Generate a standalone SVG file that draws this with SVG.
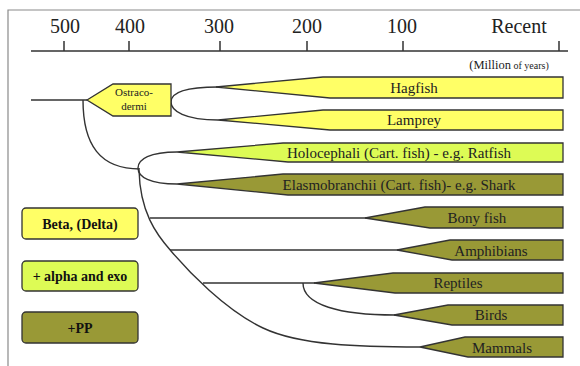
<svg xmlns="http://www.w3.org/2000/svg" width="580" height="366" viewBox="0 0 580 366">
<style>
text{font-family:"Liberation Serif","Times New Roman",serif}
.frame{fill:none;stroke:#8a8a8a;stroke-width:1.2}
.axis{fill:none;stroke:#333;stroke-width:1.5}
.tick{font-size:20px;fill:#222;text-anchor:middle}
.edge{fill:none;stroke:#333;stroke-width:1.4}
.bar{stroke:#333;stroke-width:1.3;stroke-linejoin:miter}
.y{fill:#ffff66}
.g{fill:#ddfb55}
.o{fill:#999936}
.lbl{font-size:15px;fill:#222;text-anchor:middle}
.small{font-size:11px;fill:#222;text-anchor:middle}
.leg{stroke:#333;stroke-width:1.3}
.legt{font-size:14px;font-weight:bold;fill:#111;text-anchor:middle}
</style>
<g id="frame">
<path class="frame" d="M8,366 V10 H580"/>
</g>
<g id="axis">
<path class="axis" d="M31,51 H568 M64,41 V51 M129,41 V51 M220,41 V51 M307,41 V51 M403,41 V51 M559,41 V51"/>
<text class="tick" x="65" y="33">500</text>
<text class="tick" x="130" y="33">400</text>
<text class="tick" x="219" y="33">300</text>
<text class="tick" x="307" y="33">200</text>
<text class="tick" x="402" y="33">100</text>
<text class="tick" x="519" y="33">Recent</text>
<text x="509" y="69" fill="#222" text-anchor="middle"><tspan font-size="12.5px">(Million</tspan><tspan font-size="10px"> of years)</tspan></text>
</g>
<g id="connectors">
<path class="edge" d="M31,100 H87"/>
<path class="edge" d="M83,100 C83,145 100,169 140,169"/>
<path class="edge" d="M218,87 C185,87 171,93 171,102 C171,111 185,120 218,120"/>
<path class="edge" d="M177,152 C150,152 138,159 138,168 C138,177 150,184 177,184"/>
<path class="edge" d="M139,170 C140,212 156,234 171,251 C188,271 225,310 263,328 C300,345.5 360,347 420,347"/>
<path class="edge" d="M150,218 H366"/>
<path class="edge" d="M170,250 H398"/>
<path class="edge" d="M203,283 H315"/>
<path class="edge" d="M303,283 C303,305 340,315 395,315"/>
</g>
<g id="ostracodermi">
<polygon class="bar y" points="87,100 113,84 171,84 171,116 113,116"/>
<text class="small" x="134" y="96">Ostraco-</text>
<text class="small" x="134" y="110">dermi</text>
</g>
<g id="hagfish">
<polygon class="bar y" points="216,87 323,77 563,77 563,98 330,98"/>
<text class="lbl" x="414" y="93">Hagfish</text>
</g>
<g id="lamprey">
<polygon class="bar y" points="218,120 323,110 563,110 563,130 330,130"/>
<text class="lbl" x="414" y="125">Lamprey</text>
</g>
<g id="holocephali">
<polygon class="bar g" points="177,152 283,143 563,143 563,162 288,162"/>
<text class="lbl" x="399" y="158">Holocephali (Cart. fish) - e.g. Ratfish</text>
</g>
<g id="elasmobranchii">
<polygon class="bar o" points="177,184 283,174 563,174 563,195 288,195"/>
<text class="lbl" x="399" y="190">Elasmobranchii (Cart. fish)- e.g. Shark</text>
</g>
<g id="bonyfish">
<polygon class="bar o" points="365,218 425,207 563,207 563,228 430,228"/>
<text class="lbl" x="477" y="223">Bony fish</text>
</g>
<g id="amphibians">
<polygon class="bar o" points="397,250 450,240 563,240 563,260 452,260"/>
<text class="lbl" x="491" y="256">Amphibians</text>
</g>
<g id="reptiles">
<polygon class="bar o" points="314,283 393,273 563,273 563,293 395,293"/>
<text class="lbl" x="458" y="288">Reptiles</text>
</g>
<g id="birds">
<polygon class="bar o" points="394,315 448,305 563,305 563,325 452,325"/>
<text class="lbl" x="491" y="320">Birds</text>
</g>
<g id="mammals">
<polygon class="bar o" points="420,347 465,337 563,337 563,357 468,357"/>
<text class="lbl" x="502" y="353">Mammals</text>
</g>
<g id="legend-beta">
<rect class="leg y" x="22" y="208" width="116" height="31" rx="4"/>
<text class="legt" x="80" y="229">Beta, (Delta)</text>
</g>
<g id="legend-alpha">
<rect class="leg g" x="22" y="261" width="116" height="30" rx="4"/>
<text class="legt" x="80" y="281">+ alpha and exo</text>
</g>
<g id="legend-pp">
<rect class="leg o" x="22" y="312" width="116" height="31" rx="4"/>
<text class="legt" x="80" y="333">+PP</text>
</g>
</svg>
